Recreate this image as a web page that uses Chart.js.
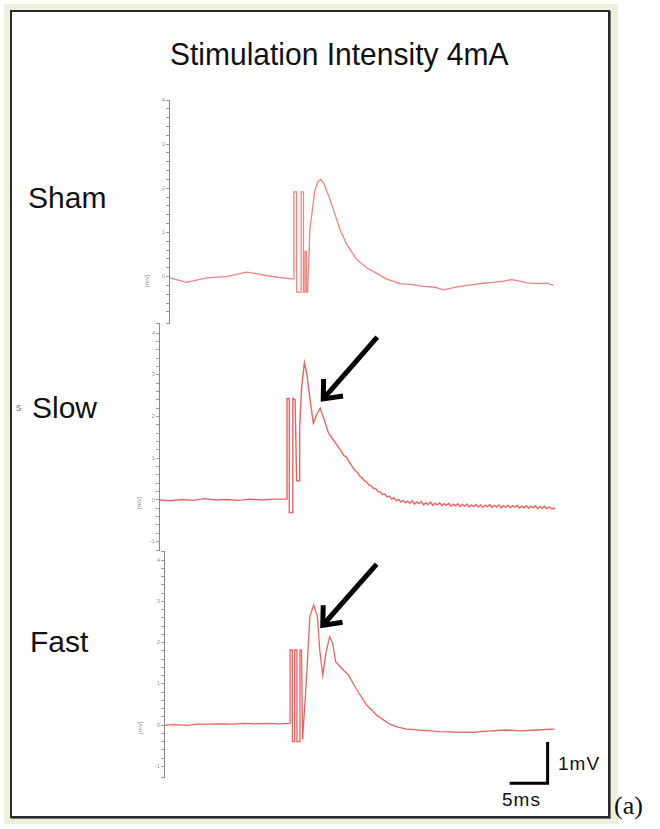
<!DOCTYPE html>
<html>
<head>
<meta charset="utf-8">
<script src="https://cdn.jsdelivr.net/npm/chart.js"></script>
<style>
  html, body { margin: 0; padding: 0; background: #fff; }
  body { width: 660px; height: 829px; position: relative; overflow: hidden; font-family: "Liberation Sans", Arial, sans-serif; }
  #frame { position: absolute; left: 4px; top: 4px; width: 614px; height: 820px; background: #eff0dc; }
  #box { position: absolute; left: 10px; top: 10px; width: 596px; height: 804px; background: #fff; border: 2px solid #2a2a2a; box-shadow: 1px 1px 0 #777; }
  canvas { position: absolute; }
  .lbl { position: absolute; color: #111; white-space: nowrap; line-height: 1; }
  .unit { position: absolute; font-size: 6px; color: #888; transform: rotate(-90deg); transform-origin: left top; white-space: nowrap; }
</style>
</head>
<body>
<div id="frame"></div>
<div id="box"></div>

<div class="lbl" style="left:170px; top:39px; font-size:30px; transform:scaleY(1.05); transform-origin:left top;">Stimulation Intensity 4mA</div>
<div class="lbl" style="left:28px; top:183px; font-size:30px;">Sham</div>
<div class="lbl" style="left:32px; top:393px; font-size:30px;">Slow</div>
<div class="lbl" style="left:30px; top:627px; font-size:30px;">Fast</div>
<div class="lbl" style="left:16px; top:402px; font-size:11px; color:#777;">s</div>
<div class="lbl" style="left:558px; top:754px; font-size:19px; letter-spacing:1px;">1mV</div>
<div class="lbl" style="left:502px; top:790px; font-size:19px; letter-spacing:1px;">5ms</div>
<div class="lbl" style="left:614px; top:793px; font-size:26px; font-family:'Liberation Serif', 'Times New Roman', serif;">(a)</div>

<div class="unit" style="left:144px; top:287px;">[mV]</div>
<div class="unit" style="left:136px; top:509px;">[mV]</div>
<div class="unit" style="left:137px; top:734px;">[mV]</div>

<canvas id="sham" width="419" height="235" style="left:145px; top:94px;"></canvas>
<canvas id="slow" width="427" height="239" style="left:135px; top:317px;"></canvas>
<canvas id="fast" width="419" height="247" style="left:140px; top:545px;"></canvas>

<script>
// Traces as [time (ms), potential] pairs
const shamTrace = [
  [0.1, -0.03], [1.2, -0.08], [2.3, -0.13], [3.6, -0.08], [5.0, -0.03], [6.3, -0.01], [7.6, 0.0],
  [8.9, 0.05], [10.2, 0.1], [11.5, 0.07], [12.9, 0.02], [14.5, -0.02], [16.1, -0.05],
  [16.45, -0.05], [16.45, 1.92], [16.8, 1.92], [16.8, -0.35], [17.4, -0.35], [17.4, 1.92],
  [17.7, 1.92], [17.7, -0.35], [17.9, -0.35], [17.9, 0.57], [18.1, 0.57], [18.1, -0.35],
  [18.25, -0.35], [18.55, 1.07], [19.2, 1.95], [19.6, 2.15], [19.96, 2.2], [20.4, 2.1],
  [21.2, 1.75], [22.5, 1.07], [23.4, 0.73], [24.7, 0.39], [26.0, 0.2], [27.3, 0.08],
  [28.6, -0.05], [30.4, -0.16], [32.0, -0.18], [33.5, -0.22], [35.0, -0.24], [36.1, -0.3],
  [37.2, -0.26], [38.3, -0.22], [40.0, -0.18], [41.4, -0.15], [42.7, -0.13], [44.0, -0.1],
  [45.1, -0.07], [46.2, -0.1], [47.1, -0.14], [48.8, -0.16], [49.8, -0.15], [50.6, -0.2]
];

const slowTrace = [
  [0, 0], [1.5, -0.02], [3, 0.01], [4.5, -0.01], [6, 0.03], [7.5, 0], [9, 0.01], [10.5, -0.01],
  [12, 0.02], [13.5, 0], [15, 0.02], [16.84, 0.02], [16.84, 2.43], [17.14, 2.43], [17.14, -0.3],
  [17.6, -0.3], [17.6, 2.43], [17.9, 2.4], [18.1, 0.46], [18.45, 0.46], [18.5, 1.76],
  [18.77, 2.71], [19.12, 3.29], [19.43, 3.03], [19.87, 2.4], [20.3, 1.84], [20.7, 2.03],
  [21.2, 2.2], [21.6, 1.99], [22.3, 1.6], [23.4, 1.32],
  [24.0, 1.16], [24.3, 1.06], [24.6, 1.04], [24.9, 0.94], [25.2, 0.86], [25.5, 0.78],
  [25.8, 0.7], [26.1, 0.66], [26.4, 0.57], [26.7, 0.53], [27.0, 0.46], [27.3, 0.43],
  [27.6, 0.36], [27.9, 0.34], [28.2, 0.28], [28.5, 0.27], [28.8, 0.2], [29.1, 0.19],
  [29.4, 0.13], [29.7, 0.14], [30.0, 0.07], [30.3, 0.09], [30.6, 0.02], [30.9, 0.05],
  [31.2, -0.02], [31.5, 0.02], [31.8, -0.05], [32.1, -0.01], [32.4, -0.07], [32.7, -0.03],
  [33.0, -0.08], [33.3, -0.02], [33.6, -0.1], [33.9, -0.05], [34.2, -0.09], [34.5, -0.04],
  [34.8, -0.12], [35.1, -0.07], [35.4, -0.11], [35.7, -0.05], [36.0, -0.13], [36.3, -0.08],
  [36.6, -0.12], [36.9, -0.07], [37.2, -0.14], [37.5, -0.09], [37.8, -0.13], [38.1, -0.08],
  [38.4, -0.15], [38.7, -0.1], [39.0, -0.14], [39.3, -0.09], [39.6, -0.16], [39.9, -0.11],
  [40.2, -0.15], [40.5, -0.1], [40.8, -0.17], [41.1, -0.12], [41.4, -0.16], [41.7, -0.11],
  [42.0, -0.17], [42.3, -0.12], [42.6, -0.18], [42.9, -0.13], [43.2, -0.16], [43.5, -0.11],
  [43.8, -0.18], [44.1, -0.13], [44.4, -0.17], [44.7, -0.12], [45.0, -0.19], [45.3, -0.14],
  [45.6, -0.18], [45.9, -0.13], [46.2, -0.19], [46.5, -0.14], [46.8, -0.18], [47.1, -0.13],
  [47.4, -0.2], [47.7, -0.15], [48.0, -0.19], [48.3, -0.14], [48.6, -0.2], [48.9, -0.15],
  [49.2, -0.19], [49.5, -0.14], [49.8, -0.21], [50.1, -0.16], [50.4, -0.2], [50.7, -0.15],
  [51.0, -0.21], [51.3, -0.16], [51.6, -0.21], [52.1, -0.2]
];

const fastTrace = [
  [0.13, 0], [1.5, 0.01], [3, -0.01], [4.5, 0.02], [6, 0.02], [7.5, 0.03], [9, 0.02],
  [10.5, 0.04], [12, 0.03], [13.5, 0.04], [15, 0.03], [16.6, 0.04], [16.6, 1.82], [16.9, 1.82],
  [16.9, -0.4], [17.2, -0.4], [17.2, 1.82], [17.5, 1.82], [17.5, -0.4], [17.9, -0.4],
  [17.9, 1.82], [18.1, 1.82], [18.25, -0.35], [18.8, 1.25], [19.2, 2.63], [19.7, 2.91],
  [20.2, 2.63], [20.5, 1.82], [20.9, 1.21], [21.3, 1.73], [21.8, 2.14], [22.2, 1.98],
  [22.6, 1.53], [23.4, 1.37], [24.3, 1.21], [25.4, 0.85], [26.7, 0.48], [28.0, 0.24],
  [29.7, 0.02], [30.8, -0.05], [31.9, -0.1], [34, -0.13], [36.3, -0.16], [38.5, -0.17],
  [40.7, -0.18], [43, -0.14], [45.1, -0.12], [47, -0.14], [49, -0.12], [51.4, -0.1]
];

// Arrows: [tail t, tail v, tip t, tip v]
const slowArrow = [28.7, 3.9, 21.6, 2.42];
const fastArrow = [28.0, 3.9, 20.9, 2.42];

// Scale bar: 5 ms by 1 mV, drawn in the Fast panel's units
const scaleBar = { t: 50.5, v: -1.41, ms: 5, mv: 1 };

function toPoints(trace) {
  return trace.map(p => ({ x: p[0], y: p[1] }));
}

function drawArrow(ctx, x0, y0, x1, y1) {
  const ang = Math.atan2(y1 - y0, x1 - x0);
  const head = 20;
  const spread = 0.7;
  ctx.save();
  ctx.strokeStyle = '#000';
  ctx.lineWidth = 5;
  ctx.lineCap = 'butt';
  ctx.lineJoin = 'miter';
  ctx.beginPath();
  ctx.moveTo(x0, y0);
  ctx.lineTo(x1 - 2 * Math.cos(ang), y1 - 2 * Math.sin(ang));
  ctx.stroke();
  ctx.beginPath();
  ctx.moveTo(x1 - head * Math.cos(ang - spread), y1 - head * Math.sin(ang - spread));
  ctx.lineTo(x1, y1);
  ctx.lineTo(x1 - head * Math.cos(ang + spread), y1 - head * Math.sin(ang + spread));
  ctx.stroke();
  ctx.restore();
}

function arrowPlugin(arrow) {
  return {
    id: 'arrow',
    afterDraw(chart) {
      const xs = chart.scales.x, ys = chart.scales.y;
      drawArrow(chart.ctx,
        xs.getPixelForValue(arrow[0]), ys.getPixelForValue(arrow[1]),
        xs.getPixelForValue(arrow[2]), ys.getPixelForValue(arrow[3]));
    }
  };
}

const scaleBarPlugin = {
  id: 'scaleBar',
  afterDraw(chart) {
    const xs = chart.scales.x, ys = chart.scales.y;
    const ctx = chart.ctx;
    const xr = xs.getPixelForValue(scaleBar.t);
    const xl = xs.getPixelForValue(scaleBar.t - scaleBar.ms);
    const yb = ys.getPixelForValue(scaleBar.v);
    const yt = ys.getPixelForValue(scaleBar.v + scaleBar.mv);
    ctx.save();
    ctx.strokeStyle = '#000';
    ctx.lineWidth = 3;
    ctx.lineJoin = 'miter';
    ctx.beginPath();
    ctx.moveTo(xr, yt);
    ctx.lineTo(xr, yb);
    ctx.lineTo(xl, yb);
    ctx.stroke();
    ctx.restore();
  }
};

function makePanel(id, trace, color, width, yMin, yMax, xMax, padBottom, plugins) {
  return new Chart(document.getElementById(id), {
    type: 'line',
    data: {
      datasets: [{
        data: toPoints(trace),
        borderColor: color,
        borderWidth: width,
        pointRadius: 0,
        tension: 0,
        fill: false
      }]
    },
    options: {
      responsive: false,
      animation: false,
      layout: { padding: { left: 0, right: 0, top: 6, bottom: padBottom } },
      plugins: { legend: { display: false }, tooltip: { enabled: false } },
      scales: {
        x: { type: 'linear', min: 0, max: xMax, display: false },
        y: {
          min: yMin,
          max: yMax,
          afterFit(scale) { scale.width = 24; },
          border: { color: '#888', width: 1 },
          grid: { drawOnChartArea: false, tickLength: 3, color: '#999' },
          ticks: {
            stepSize: 0.2,
            autoSkip: false,
            padding: 1,
            color: '#999',
            font: { size: 6 },
            callback(v) {
              const r = Math.round(v);
              return Math.abs(v - r) < 1e-6 ? String(r) : '';
            }
          }
        }
      }
    },
    plugins: plugins
  });
}

makePanel('sham', shamTrace, 'rgba(236,90,90,0.75)', 1.3, -1.05, 4.0, 52, 6, []);
makePanel('slow', slowTrace, 'rgba(236,70,70,0.85)', 1.4, -1.2, 4.24, 53, 6, [arrowPlugin(slowArrow)]);
makePanel('fast', fastTrace, 'rgba(236,70,70,0.85)', 1.3, -1.26, 4.22, 52, 15, [arrowPlugin(fastArrow), scaleBarPlugin]);
</script>
</body>
</html>
